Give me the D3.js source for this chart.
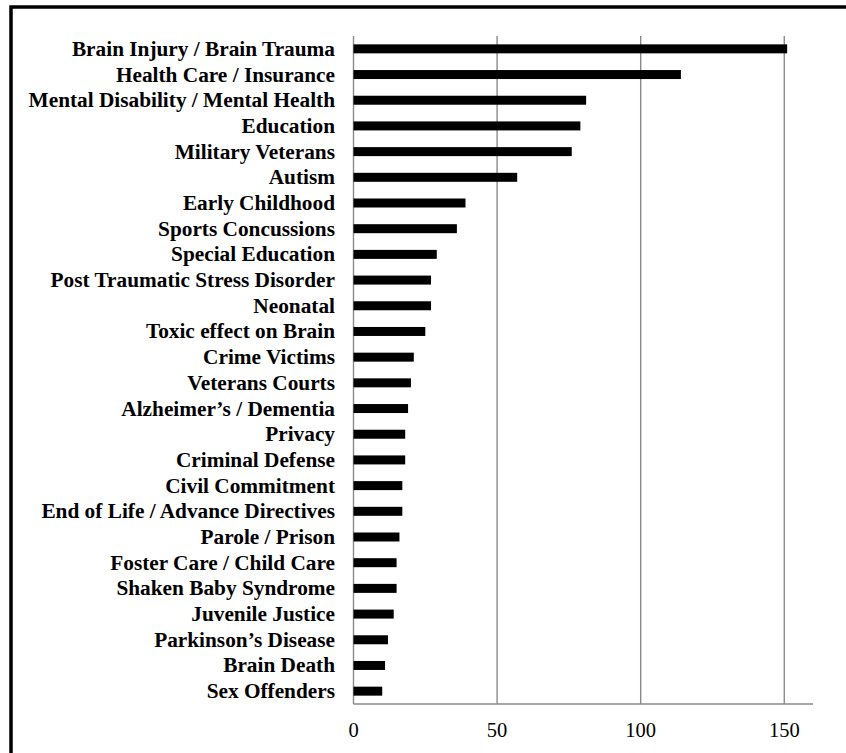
<!DOCTYPE html>
<html>
<head>
<meta charset="utf-8">
<script src="https://cdn.jsdelivr.net/npm/d3@7"></script>
<style>
html,body{margin:0;padding:0;background:#fff;}
svg{display:block;}
</style>
</head>
<body>
<svg id="chart" width="846" height="753"></svg>
<script>
const categories = [
  "Brain Injury / Brain Trauma",
  "Health Care / Insurance",
  "Mental Disability / Mental Health",
  "Education",
  "Military Veterans",
  "Autism",
  "Early Childhood",
  "Sports Concussions",
  "Special Education",
  "Post Traumatic Stress Disorder",
  "Neonatal",
  "Toxic effect on Brain",
  "Crime Victims",
  "Veterans Courts",
  "Alzheimer\u2019s / Dementia",
  "Privacy",
  "Criminal Defense",
  "Civil Commitment",
  "End of Life / Advance Directives",
  "Parole / Prison",
  "Foster Care / Child Care",
  "Shaken Baby Syndrome",
  "Juvenile Justice",
  "Parkinson\u2019s Disease",
  "Brain Death",
  "Sex Offenders"
];
const values = [151, 114, 81, 79, 76, 57, 39, 36, 29, 27, 27, 25, 21, 20, 19, 18, 18, 17, 17, 16, 15, 15, 14, 12, 11, 10];
const tickValues = [0, 50, 100, 150];

const svg = d3.select("#chart");
const font = "'Liberation Serif','Times New Roman',Times,serif";

// outer frame
svg.append("rect")
  .attr("x", 11).attr("y", 7)
  .attr("width", 860).attr("height", 780)
  .attr("fill", "none").attr("stroke", "#000").attr("stroke-width", 3.5);

const plotLeft = 353.5, plotRight = 813, plotTop = 36, plotBottom = 704;

const x = d3.scaleLinear().domain([0, 160]).range([plotLeft, plotRight]);
const y = d3.scaleBand().domain(categories).range([plotTop, plotBottom])
  .paddingInner(0.65).paddingOuter(0.325);

// gridlines
svg.append("g").selectAll("line").data(tickValues).join("line")
  .attr("x1", d => x(d)).attr("x2", d => x(d))
  .attr("y1", plotTop).attr("y2", plotBottom)
  .attr("stroke", "#8a8a8a").attr("stroke-width", 1.4);

// bottom axis line
svg.append("line")
  .attr("x1", plotLeft).attr("x2", plotRight)
  .attr("y1", plotBottom).attr("y2", plotBottom)
  .attr("stroke", "#8a8a8a").attr("stroke-width", 1.4);

// bars
svg.append("g").selectAll("rect").data(values).join("rect")
  .attr("x", x(0))
  .attr("y", (d, i) => y(categories[i]))
  .attr("width", d => x(d) - x(0))
  .attr("height", y.bandwidth())
  .attr("fill", "#000");

// category labels
svg.append("g").selectAll("text").data(categories).join("text")
  .attr("x", 335)
  .attr("y", d => y(d) + y.bandwidth() / 2 + 7)
  .attr("text-anchor", "end")
  .attr("font-family", font)
  .attr("font-weight", "bold")
  .attr("font-size", "21.3px")
  .attr("fill", "#000")
  .text(d => d);

// tick labels
svg.append("g").selectAll("text").data(tickValues).join("text")
  .attr("x", d => x(d))
  .attr("y", 736.5)
  .attr("text-anchor", "middle")
  .attr("font-family", font)
  .attr("font-size", "20.5px")
  .attr("fill", "#000")
  .text(d => d);
</script>
</body>
</html>
